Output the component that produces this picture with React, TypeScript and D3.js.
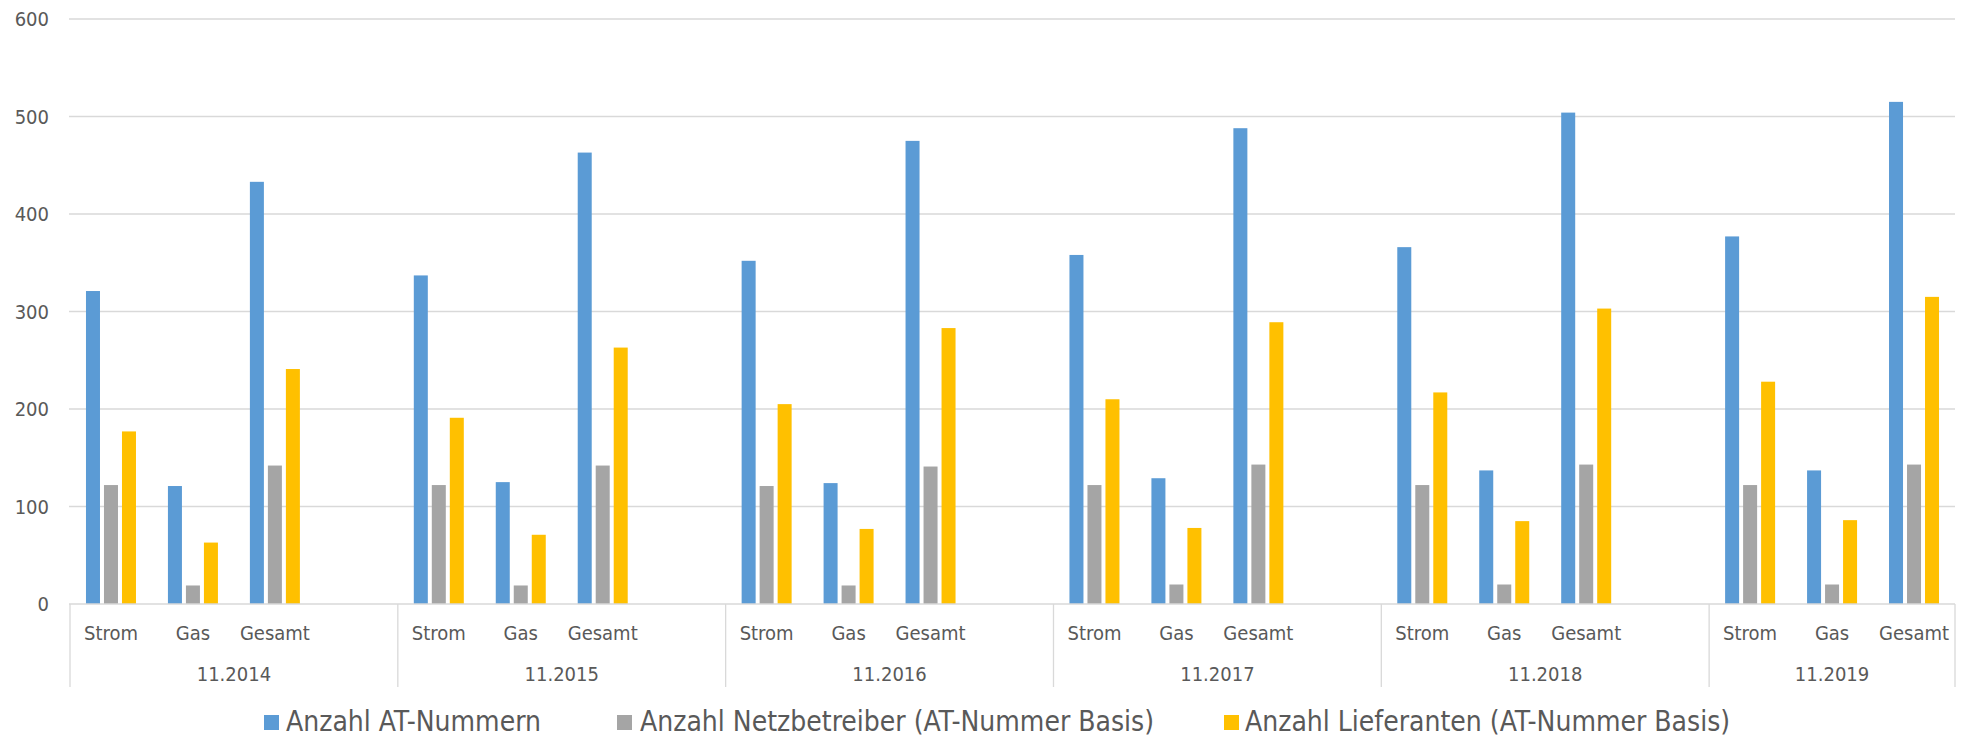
import React from "react";
import * as d3 from "d3";

const years = ["11.2014", "11.2015", "11.2016", "11.2017", "11.2018", "11.2019"];
const subCategories = ["Strom", "Gas", "Gesamt"];
const seriesNames = [
  "Anzahl AT-Nummern",
  "Anzahl Netzbetreiber (AT-Nummer Basis)",
  "Anzahl Lieferanten (AT-Nummer Basis)",
];
const seriesColors = ["#5B9BD5", "#A5A5A5", "#FFC000"];

// values per year: Strom, Gas, Gesamt
const atNummern = [321, 121, 433, 337, 125, 463, 352, 124, 475, 358, 129, 488, 366, 137, 504, 377, 137, 515];
const netzbetreiber = [122, 19, 142, 122, 19, 142, 121, 19, 141, 122, 20, 143, 122, 20, 143, 122, 20, 143];
const lieferanten = [177, 63, 241, 191, 71, 263, 205, 77, 283, 210, 78, 289, 217, 85, 303, 228, 86, 315];
const yTicks = [0, 100, 200, 300, 400, 500, 600];

const W = 1966;
const H = 739;
const FONT = "'DejaVu Sans Condensed', 'DejaVu Sans', Verdana, sans-serif";
const TEXT = "#595959";
const GRID = "#D9D9D9";

export default function App() {
  const seriesValues = [atNummern, netzbetreiber, lieferanten];

  const cats: { key: string; year: string; sub: string; idx: number }[] = [];
  years.forEach((y, yi) => {
    subCategories.forEach((s, si) => cats.push({ key: `${y}|${s}`, year: y, sub: s, idx: yi * 3 + si }));
    if (yi < years.length - 1) cats.push({ key: `${y}|_`, year: y, sub: "", idx: -1 });
  });

  const left = 70;
  const right = 1955;
  const x = d3.scaleBand<string>().domain(cats.map((c) => c.key)).range([left, right]).paddingInner(0).paddingOuter(0);
  const bw = x.bandwidth();
  const groupW = 50;
  const x1 = d3
    .scaleBand<string>()
    .domain(seriesNames)
    .range([(bw - groupW) / 2, (bw + groupW) / 2])
    .paddingInner(0.222)
    .paddingOuter(0);

  const y = d3.scaleLinear().domain([0, 600]).range([604, 19]);

  const groupBounds = years.map((yr) => {
    const keys = cats.filter((c) => c.year === yr).map((c) => c.key);
    const x0 = x(keys[0])!;
    const xEnd = x(keys[keys.length - 1])! + bw;
    return { yr, x0, xEnd };
  });

  const legendItems = [
    { sq: 264, tx: 286 },
    { sq: 617, tx: 640 },
    { sq: 1224, tx: 1245 },
  ];

  return (
    <svg
      width={W}
      height={H}
      style={{ position: "absolute", left: 0, top: 0, background: "#fff", fontStretch: "condensed" }}
      fontFamily={FONT}
    >
      <rect x={0} y={0} width={W} height={H} fill="#fff" />
      {yTicks.map((t) =>
        t === 0 ? null : (
          <line key={t} x1={69} x2={right} y1={y(t)} y2={y(t)} stroke={GRID} strokeWidth={1.3} />
        )
      )}
      {yTicks.map((t) => (
        <text key={`l${t}`} x={49} y={y(t)} dy="0.36em" textAnchor="end" fontSize={20} fill={TEXT}>
          {t}
        </text>
      ))}
      {cats
        .filter((c) => c.idx >= 0)
        .map((c) =>
          seriesNames.map((s, si) => {
            const v = seriesValues[si][c.idx];
            return (
              <rect
                key={`${c.key}-${si}`}
                x={x(c.key)! + x1(s)!}
                y={y(v)}
                width={x1.bandwidth()}
                height={y(0) - y(v)}
                fill={seriesColors[si]}
              />
            );
          })
        )}
      <line x1={69} x2={right} y1={y(0)} y2={y(0)} stroke={GRID} strokeWidth={1.3} />
      {groupBounds.map((g, i) => (
        <g key={g.yr}>
          {i === 0 && <line x1={g.x0} x2={g.x0} y1={y(0)} y2={687} stroke={GRID} strokeWidth={1.3} />}
          <line x1={g.xEnd} x2={g.xEnd} y1={y(0)} y2={687} stroke={GRID} strokeWidth={1.3} />
          <text x={(g.x0 + g.xEnd) / 2} y={681} textAnchor="middle" fontSize={20} fill={TEXT}>
            {g.yr}
          </text>
        </g>
      ))}
      {cats
        .filter((c) => c.sub !== "")
        .map((c) => (
          <text key={`c${c.key}`} x={x(c.key)! + bw / 2} y={640} textAnchor="middle" fontSize={20} fill={TEXT}>
            {c.sub}
          </text>
        ))}
      {seriesNames.map((s, i) => (
        <g key={s}>
          <rect x={legendItems[i].sq} y={715} width={15} height={15} fill={seriesColors[i]} />
          <text x={legendItems[i].tx} y={731} fontSize={28} fill={TEXT}>
            {s}
          </text>
        </g>
      ))}
    </svg>
  );
}
